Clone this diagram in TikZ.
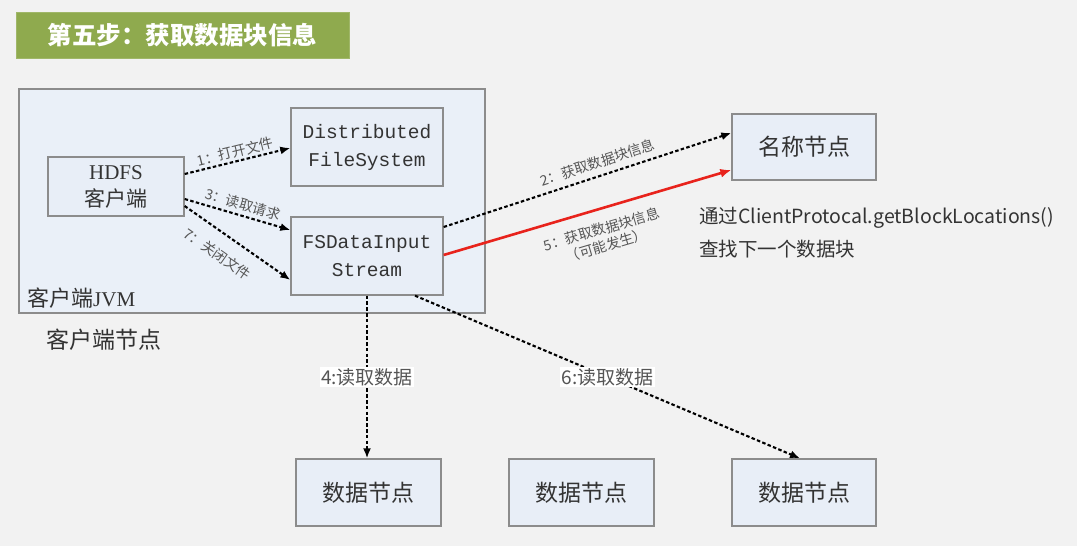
\documentclass[tikz,border=0pt]{standalone}
\usepackage{fontspec}
\setmainfont{Liberation Serif}
\newfontfamily\cjk{Noto Sans CJK SC}
\newfontfamily\monof{Liberation Mono}
\usetikzlibrary{arrows.meta}
\definecolor{bgc}{HTML}{F2F2F2}
\definecolor{boxfill}{HTML}{E8EEF7}
\definecolor{boxline}{HTML}{8C8C8C}
\definecolor{titlegreen}{HTML}{8FAA4E}
\definecolor{txt}{HTML}{333333}
\definecolor{lbl}{HTML}{555555}
\definecolor{redline}{HTML}{E8231C}
\begin{document}
\begin{tikzpicture}[x=1pt,y=-1pt,
  box/.style={draw=boxline, line width=1.3pt, fill=boxfill, inner sep=0pt, text=txt, align=center},
  darr/.style={line width=2.1pt, dash pattern=on 3.5pt off 2.3pt, -{Latex[length=10pt,width=8pt]}},
  rarr/.style={line width=2.6pt, draw=redline, -{Latex[length=11pt,width=9pt]}},
  lab/.style={text=lbl, font=\cjk\fontsize{14}{17}\selectfont, inner sep=1pt, align=center},
  blab/.style={text=lbl, font=\cjk\fontsize{19}{22}\selectfont, fill=white, inner sep=1.5pt},
  bigtxt/.style={font=\cjk\fontsize{23}{27}\selectfont}
]
\useasboundingbox[fill=bgc] (0,0) rectangle (1077,546);

% title
\node[fill=titlegreen, draw=titlegreen!85!white, line width=1pt, minimum width=333pt, minimum height=46pt, inner sep=0pt,
      text=white, font=\cjk\bfseries\fontsize{24.5}{28}\selectfont] (title) at (182.5,35) {第五步：获取数据块信息};

% client JVM container
\node[box, minimum width=466pt, minimum height=224pt, fill=boxfill!90!white] (jvm) at (252,201) {};
\node[anchor=west, text=txt, inner sep=0pt] (jvmlbl) at (27,298) {{\cjk\fontsize{22}{26}\selectfont 客户端}{\fontsize{21}{26}\selectfont JVM}};
\node[anchor=west, text=txt, inner sep=0pt, bigtxt] (clientnode) at (46,340) {客户端节点};

% nodes
\node[box, minimum width=136pt, minimum height=59pt, font=\fontsize{21}{27}\selectfont] (hdfs) at (116,186.5)
  {HDFS\\{\cjk 客户端}};
\node[box, minimum width=152pt, minimum height=78pt, font=\monof\fontsize{19.5}{28}\selectfont] (dfs) at (367,147)
  {Distributed\\FileSystem};
\node[box, minimum width=152pt, minimum height=78pt, font=\monof\fontsize{19.5}{28}\selectfont] (fsd) at (367,256)
  {FSDataInput\\Stream};
\node[box, minimum width=144pt, minimum height=66pt, bigtxt] (nn) at (804,147) {名称节点};
\node[box, minimum width=145pt, minimum height=67pt, bigtxt] (dn1) at (368.5,492.5) {数据节点};
\node[box, minimum width=145pt, minimum height=67pt, bigtxt] (dn2) at (581.5,492.5) {数据节点};
\node[box, minimum width=144pt, minimum height=67pt, bigtxt] (dn3) at (804,492.5) {数据节点};

% note
\node[anchor=west, inner sep=0pt, text=txt, align=left, font=\cjk\fontsize{19.5}{33}\selectfont] (note) at (699,233)
  {通过ClientProtocal.getBlockLocations()\\查找下一个数据块};

% connectors
\draw[darr] ([yshift=12.5pt]hdfs.east) -- node[lab, sloped, above=1pt, pos=0.5] {1：打开文件} ([yshift=-1pt]dfs.west);
\draw[darr] ([yshift=-12.5pt]hdfs.east) -- node[lab, sloped, above=3pt, pos=0.52] {3：读取请求} ([yshift=26pt]fsd.west);
\draw[darr] ([yshift=-19.5pt]hdfs.east) -- node[lab, sloped, below=12pt, pos=0.42] {7：关闭文件} ([yshift=-24pt]fsd.west);
\draw[darr] ([yshift=29pt]fsd.east) -- node[lab, sloped, above=5pt, pos=0.55] {2：获取数据块信息} ([yshift=14pt]nn.west);
\draw[rarr] ([yshift=1pt]fsd.east) -- node[lab, sloped, below=11pt, pos=0.53] {5：获取数据块信息\\（可能发生）} ([yshift=-23pt]nn.west);
\draw[darr] (fsd.south) -- node[blab, pos=0.5] {4:读取数据} (fsd.south |- dn1.north);
\draw[darr] ([xshift=48pt]fsd.south) -- node[blab, pos=0.5] {6:读取数据} ([xshift=-4pt]dn3.north);
\end{tikzpicture}
\end{document}
